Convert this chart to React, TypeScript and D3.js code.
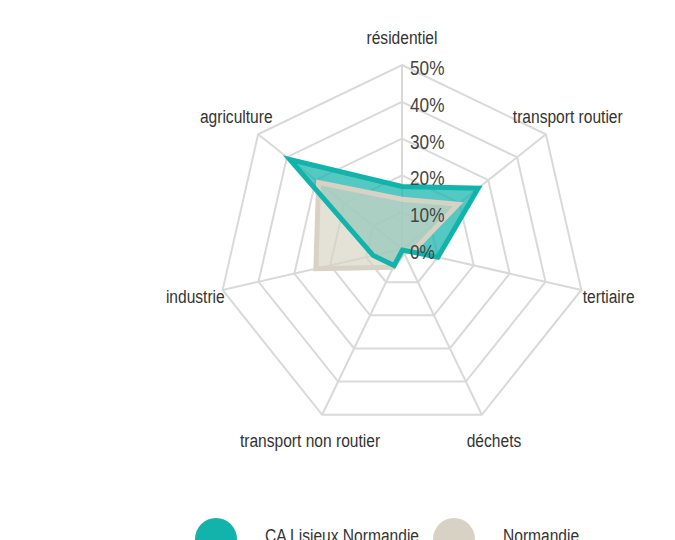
import React, { useRef, useEffect } from "react";
import * as d3 from "d3";

const categories = [
  "résidentiel",
  "transport routier",
  "tertiaire",
  "déchets",
  "transport non routier",
  "industrie",
  "agriculture",
];
const lisieuxValues = [17, 26.5, 10, 0.3, 5, 8, 39];
const normandieValues = [13.5, 19.5, 3, 1, 5.5, 24, 29];
const tickValues = [0, 10, 20, 30, 40, 50];
const seriesNames = ["CA Lisieux Normandie", "Normandie"];
const seriesColors = ["#12b3ab", "#d7d2c4"];

// no condensed font installed, so Liberation Sans is squeezed horizontally
const FONT = "'Liberation Sans', Arial, sans-serif";
const SQUEEZE = 0.82;

const RadarChart = ({ width = 675, height = 540 }) => {
  const ref = useRef<SVGSVGElement>(null);

  useEffect(() => {
    const cx = 402;
    const cy = 249;
    const radius = 184;
    const step = (2 * Math.PI) / categories.length;

    const r = d3.scaleLinear().domain([0, 50]).range([0, radius]);

    const svg = d3.select(ref.current).attr("width", width).attr("height", height);
    const g = svg.append("g").attr("transform", `translate(${cx}, ${cy})`);

    const pt = (i: number, v: number) => [
      Math.sin(i * step) * r(v),
      -Math.cos(i * step) * r(v),
    ];

    const label = (parent, x: number, y: number, size: number, fill: string) =>
      parent
        .append("text")
        .attr("transform", `translate(${x}, ${y}) scale(${SQUEEZE}, 1)`)
        .attr("font-family", FONT)
        .attr("font-size", `${size}px`)
        .attr("fill", fill);

    // grid rings
    const ring = d3
      .lineRadial<number>()
      .angle((d, i) => i * step)
      .radius((d) => r(d))
      .curve(d3.curveLinearClosed);

    tickValues
      .filter((t) => t > 0)
      .forEach((t) => {
        g.append("path")
          .attr("d", ring(categories.map(() => t)))
          .attr("fill", "none")
          .attr("stroke", "#d9d9d9")
          .attr("stroke-width", 2);
      });

    // spokes
    categories.forEach((c, i) => {
      const [x, y] = pt(i, 50);
      g.append("line")
        .attr("x1", 0)
        .attr("y1", 0)
        .attr("x2", x)
        .attr("y2", y)
        .attr("stroke", "#d9d9d9")
        .attr("stroke-width", 2);
    });

    // series: fills first, then outlines
    const series = [lisieuxValues, normandieValues];
    const fillOpacity = [0.72, 0.67];
    series.forEach((vals, s) => {
      g.append("path")
        .attr("d", ring(vals))
        .attr("fill", seriesColors[s])
        .attr("fill-opacity", fillOpacity[s]);
    });
    [1, 0].forEach((s) => {
      g.append("path")
        .attr("d", ring(series[s]))
        .attr("fill", "none")
        .attr("stroke", seriesColors[s])
        .attr("stroke-width", 5)
        .attr("stroke-linejoin", "miter");
    });

    // tick labels
    tickValues.forEach((t) => {
      label(g, 8, -r(t) + 10, 21, "#444").text(`${t}%`);
    });

    // axis labels
    categories.forEach((c, i) => {
      const a = i * step;
      const d = radius + 28;
      label(g, Math.sin(a) * d, -Math.cos(a) * d, 19, "#333")
        .attr("text-anchor", "middle")
        .attr("dominant-baseline", "central")
        .text(c);
    });

    // legend (sits on the bottom edge, partly cut off as in the original)
    const legendX = [216, 454];
    seriesNames.forEach((name, s) => {
      svg.append("circle")
        .attr("cx", legendX[s])
        .attr("cy", 539)
        .attr("r", 21)
        .attr("fill", seriesColors[s]);
      label(svg, legendX[s] + 49, 542, 19, "#333").text(name);
    });

    return () => {
      d3.select(ref.current).selectAll("*").remove();
    };
  }, [width, height]);

  return (
    <svg
      ref={ref}
      style={{ position: "absolute", left: 0, top: 0, background: "#fff" }}
    ></svg>
  );
};

export default function App() {
  return <RadarChart />;
}
